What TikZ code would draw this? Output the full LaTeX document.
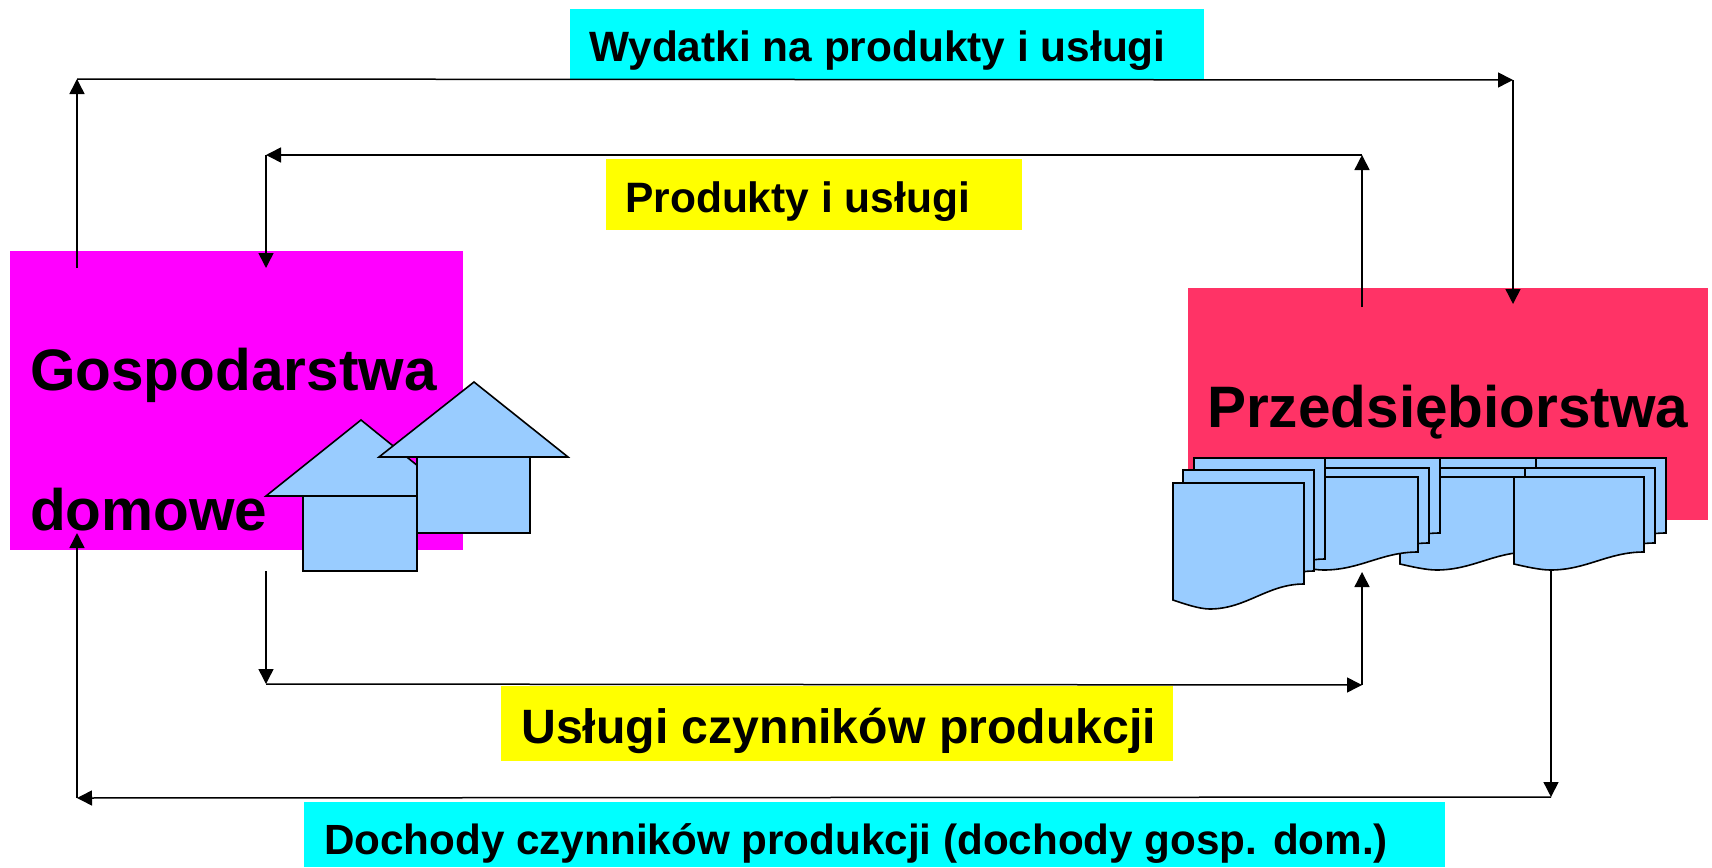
\documentclass[tikz,border=0pt]{standalone}
\usepackage{fontspec}
\setmainfont{Liberation Sans}
\usetikzlibrary{arrows.meta}
\definecolor{cy}{RGB}{0,255,255}
\definecolor{ye}{RGB}{255,255,0}
\definecolor{ma}{RGB}{255,0,255}
\definecolor{re}{RGB}{255,51,102}
\definecolor{bl}{RGB}{153,204,255}
\tikzset{
  x=1pt,y=-1pt,
  lab/.style={anchor=base west,inner sep=0pt},
  part/.style={draw=black,line width=1.6pt,fill=bl,line join=miter},
  flow/.style={line width=1.5pt,-{Triangle[length=15pt,width=15pt]}}
}
% left top width h(right) h(left) h(lowest)
\newcommand{\docsheet}[6]{%
  \draw[part] (#1,#2) -- (#1+#3,#2) -- (#1+#3,#2+#4)
    .. controls (#1+0.72*#3,#2+#4) and (#1+0.56*#3,#2+#6) .. (#1+0.28*#3,#2+#6)
    .. controls (#1+0.2*#3,#2+#6) and (#1+0.08*#3,#2+#5+0.4*#6-0.4*#5) .. (#1,#2+#5)
    -- cycle;
}
\begin{document}
\begin{tikzpicture}
\useasboundingbox (0,0) rectangle (1712,867);
% colour blocks
\fill[cy] (570,9) rectangle (1204,79);
\fill[ye] (606,159) rectangle (1022,230);
\fill[ma] (10,251) rectangle (463,550);
\fill[re] (1188,288) rectangle (1708,520);
\fill[ye] (501,686) rectangle (1173,761);
\fill[cy] (304,802) rectangle (1445,867);
% labels
\node[lab,font=\bfseries\fontsize{42.4}{44}\selectfont] (t1) at (589,62) {Wydatki na produkty i usługi};
\node[lab,font=\bfseries\fontsize{42.5}{44}\selectfont] (t2) at (625,212) {Produkty i usługi};
\node[lab,font=\bfseries\fontsize{48.2}{50}\selectfont] (t3) at (521,743) {Usługi czynników produkcji};
\node[lab,font=\bfseries\fontsize{42.2}{44}\selectfont] (t4) at (324,854) {Dochody czynników produkcji (dochody gosp. dom.)};
\node[lab,font=\bfseries\fontsize{58.5}{58}\selectfont] (t5) at (30,390) {Gospodarstwa};
\node[lab,font=\bfseries\fontsize{58.5}{58}\selectfont] (t6) at (30,530) {domowe};
\node[lab,font=\bfseries\fontsize{58.5}{58}\selectfont] (t7) at (1207,427) {Przedsiębiorstwa};
% houses
\draw[part] (266,496) -- (361,420) -- (455,496) -- cycle;
\draw[part] (303,496) rectangle (417,571);
\draw[part] (379,457) -- (474,382) -- (568,457) -- cycle;
\draw[part] (417,457) rectangle (530,533);
% document stacks
\foreach \sx in {1400,1514}{
  \docsheet{\sx+22}{458}{130}{75}{87}{93}
  \docsheet{\sx+11}{468}{130}{75}{87}{93}
  \docsheet{\sx}{477}{130}{75}{87}{93}
}
\docsheet{1309}{458}{131}{75}{87}{93}
\docsheet{1298}{468}{131}{75}{87}{93}
\docsheet{1287}{477}{131}{75}{87}{93}
\docsheet{1194}{458}{131}{101}{117}{126}
\docsheet{1183}{470}{131}{101}{117}{126}
\docsheet{1173}{483}{131}{101}{117}{126}
% connector points
\coordinate (a1) at (77,268);
\coordinate (a2) at (77,79);
\coordinate (a3) at (1513,80);
\coordinate (a4) at (1513,304);
\coordinate (b1) at (1362,307);
\coordinate (b2) at (1362,155);
\coordinate (b3) at (266,155);
\coordinate (b4) at (266,268);
\coordinate (c1) at (266,571);
\coordinate (c2) at (266,684);
\coordinate (c3) at (1362,685);
\coordinate (c4) at (1362,572);
\coordinate (d1) at (1551,570);
\coordinate (d2) at (1551,797);
\coordinate (d3) at (77,798);
\coordinate (d4) at (77,533);
\draw[flow] (a1) -- (a2);
\draw[flow] (a2) -- (a3);
\draw[flow] (a3) -- (a4);
\draw[flow] (b1) -- (b2);
\draw[flow] (b2) -- (b3);
\draw[flow] (b3) -- (b4);
\draw[flow] (c1) -- (c2);
\draw[flow] (c2) -- (c3);
\draw[flow] (c3) -- (c4);
\draw[flow] (d1) -- (d2);
\draw[flow] (d2) -- (d3);
\draw[flow] (d3) -- (d4);
\end{tikzpicture}
\end{document}
